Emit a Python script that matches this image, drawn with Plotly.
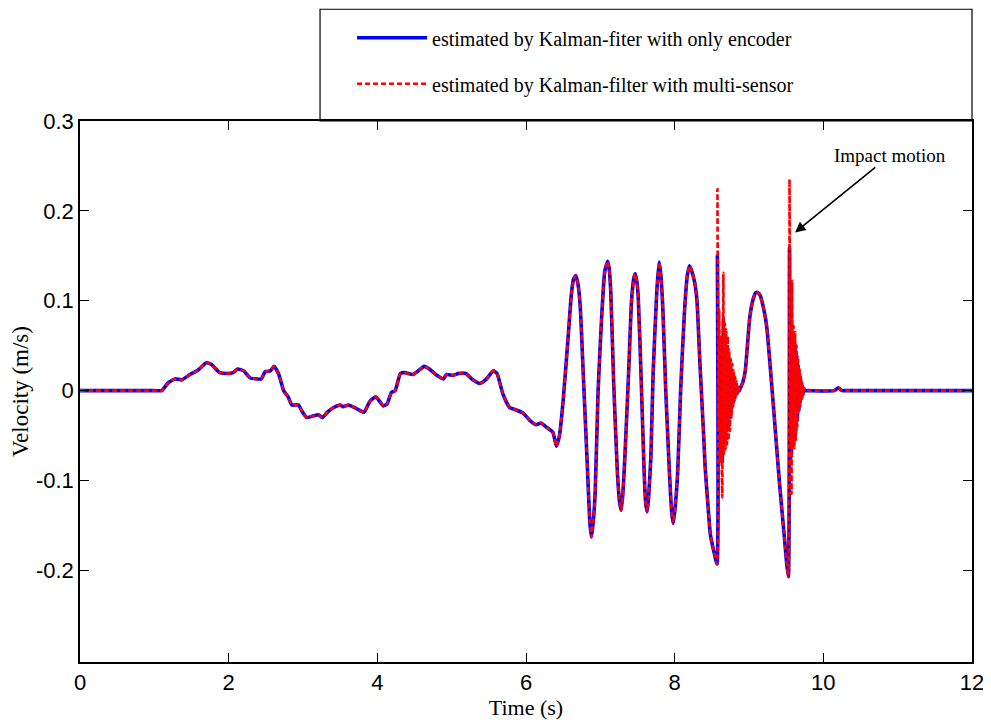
import plotly.graph_objects as go

# ---- data ----
# common smooth part (time s, velocity m/s)
seg1_t = [0, 1.00, 1.10, 1.19, 1.28, 1.37, 1.48, 1.59, 1.70, 1.77, 1.88, 1.97, 2.06, 2.12, 2.20, 2.29,
          2.38, 2.44, 2.49, 2.56, 2.61, 2.67, 2.74, 2.80, 2.85, 2.94, 2.98, 3.05, 3.14, 3.21, 3.26,
          3.34, 3.43, 3.50, 3.54, 3.61, 3.72, 3.82, 3.90, 3.98, 4.08, 4.13, 4.19, 4.24, 4.31, 4.37,
          4.48, 4.55, 4.63, 4.70, 4.80, 4.89, 4.93, 5.02, 5.09, 5.19, 5.27, 5.38, 5.47, 5.56, 5.61,
          5.69, 5.78, 5.85, 5.96, 6.05, 6.14, 6.20, 6.28, 6.36, 6.41, 6.45, 6.50, 6.57, 6.61, 6.64,
          6.67, 6.70, 6.73, 6.77, 6.82, 6.86, 6.88, 6.90, 6.93, 6.97, 7.02, 7.06, 7.10, 7.12, 7.14,
          7.18, 7.23, 7.26, 7.28, 7.30, 7.33, 7.38, 7.42, 7.45, 7.47, 7.49, 7.51, 7.55, 7.59, 7.61,
          7.63, 7.65, 7.68, 7.71, 7.76, 7.79, 7.81, 7.84, 7.88, 7.93, 7.96, 7.98, 8.00, 8.04, 8.08,
          8.13, 8.17, 8.20, 8.23, 8.27, 8.30, 8.34, 8.39, 8.41, 8.45, 8.48, 8.53, 8.57]
seg1_v = [0, 0, 0, 0.009, 0.013, 0.012, 0.018, 0.023, 0.031, 0.029, 0.020, 0.019, 0.020, 0.024, 0.022, 0.014,
          0.013, 0.013, 0.021, 0.022, 0.027, 0.019, 0.000, -0.007, -0.016, -0.016, -0.022, -0.030, -0.028, -0.027, -0.030,
          -0.023, -0.018, -0.016, -0.018, -0.016, -0.020, -0.024, -0.012, -0.007, -0.017, -0.015, -0.002, 0.000, 0.019, 0.020,
          0.018, 0.022, 0.027, 0.024, 0.017, 0.013, 0.018, 0.017, 0.019, 0.019, 0.013, 0.008, 0.013, 0.022, 0.019,
          -0.004, -0.019, -0.021, -0.025, -0.033, -0.038, -0.036, -0.041, -0.046, -0.062, -0.050, -0.011, 0.063, 0.107, 0.124,
          0.128, 0.118, 0.093, 0.019, -0.074, -0.148, -0.163, -0.150, -0.115, 0.000, 0.085, 0.133, 0.144, 0.135, 0.111,
          0.008, -0.092, -0.125, -0.133, -0.118, -0.074, 0.019, 0.100, 0.125, 0.130, 0.122, 0.104, 0.011, -0.092, -0.125,
          -0.135, -0.118, -0.074, 0.019, 0.111, 0.143, 0.132, 0.093, 0.000, -0.092, -0.135, -0.148, -0.135, -0.092, 0.000,
          0.085, 0.128, 0.139, 0.133, 0.120, 0.100, 0.030, -0.050, -0.085, -0.130, -0.160, -0.180, -0.193]

# first impact burst
burst1_t = [8.575, 8.590, 8.600, 8.610, 8.620, 8.630, 8.640, 8.655, 8.665, 8.675, 8.685, 8.695, 8.705,
            8.715, 8.725, 8.735, 8.745, 8.755, 8.765, 8.775, 8.785, 8.795, 8.805, 8.815, 8.825, 8.835,
            8.845, 8.855, 8.870]
burst1_red = [0.224, -0.040, 0.090, -0.080, 0.060, -0.060, -0.119, 0.131, -0.070, 0.075, -0.065, 0.068, -0.060,
              0.060, -0.055, 0.045, -0.045, 0.035, -0.030, 0.030, -0.020, 0.022, -0.012, 0.015, -0.008, 0.010,
              -0.004, 0.006, 0.000]
burst1_blue = [0.150, -0.060, 0.060, -0.070, 0.040, -0.050, -0.080, 0.080, -0.050, 0.050, -0.045, 0.045, -0.040,
               0.040, -0.035, 0.030, -0.030, 0.025, -0.020, 0.018, -0.014, 0.012, -0.008, 0.008, -0.005, 0.005,
               -0.003, 0.003, 0.000]

seg2_t = [8.88, 8.92, 8.95, 9.01, 9.05, 9.09, 9.12, 9.15, 9.20, 9.24, 9.33, 9.41, 9.48, 9.51, 9.53]
seg2_v = [0.002, 0.010, 0.022, 0.081, 0.100, 0.109, 0.109, 0.106, 0.090, 0.070, -0.019, -0.103, -0.167, -0.195, -0.207]

# second impact burst
burst2_t = [9.545, 9.555, 9.565, 9.572, 9.580, 9.590, 9.600, 9.610, 9.620, 9.630, 9.640, 9.650, 9.660,
            9.670, 9.680, 9.690, 9.700, 9.710, 9.720, 9.730, 9.740]
burst2_red = [0.235, -0.060, 0.080, -0.115, 0.122, -0.064, 0.072, -0.064, 0.065, -0.055, 0.050, -0.040, 0.037,
              -0.025, 0.025, -0.018, 0.015, -0.010, 0.008, -0.005, 0.003]
burst2_blue = [0.159, -0.080, 0.070, -0.070, 0.065, -0.060, 0.060, -0.055, 0.050, -0.045, 0.040, -0.033, 0.028,
               -0.022, 0.018, -0.013, 0.010, -0.007, 0.005, -0.003, 0.002]

seg3_t = [9.75, 9.80, 10.15, 10.20, 10.25, 10.30, 12.0]
seg3_v = [0.000, 0.000, 0.000, 0.003, 0.000, 0.000, 0.000]

x_ticks = [0, 2, 4, 6, 8, 10, 12]
y_ticks = [-0.2, -0.1, 0, 0.1, 0.2, 0.3]
y_tick_text = ["-0.2", "-0.1", "0", "0.1", "0.2", "0.3"]

name_enc = "estimated by Kalman-fiter with only encoder"
name_multi = "estimated by Kalman-filter with multi-sensor"

t_all = seg1_t + burst1_t + seg2_t + burst2_t + seg3_t
v_enc = seg1_v + burst1_blue + seg2_v + burst2_blue + seg3_v
v_multi = seg1_v + burst1_red + seg2_v + burst2_red + seg3_v

SERIF = "Liberation Serif, Times New Roman, serif"
SANS = "Liberation Sans, Arial, sans-serif"

fig = go.Figure()
fig.add_trace(go.Scatter(x=t_all, y=v_enc, mode="lines", name=name_enc, legendgroup="a",
                         line=dict(color="rgb(0,0,255)", width=3.6, shape="spline", smoothing=0.5)))
fig.add_trace(go.Scatter(x=t_all, y=v_multi, mode="lines", name=name_multi, legendgroup="b",
                         line=dict(color="rgb(255,0,0)", width=2.6, dash="5px,3px",
                                   shape="spline", smoothing=0.5)))

fig.add_annotation(x=9.62, y=0.176, ax=95, ay=-77, text="Impact motion",
                   showarrow=True, arrowhead=2, arrowsize=1.3, arrowwidth=1.6, arrowcolor="black",
                   font=dict(family=SERIF, size=19, color="black"))

# legend frame
fig.add_shape(type="rect", xref="paper", yref="paper", x0=0.2691, x1=1.0, y0=1.0, y1=1.2066,
              line=dict(color="black", width=1.2), fillcolor="rgba(0,0,0,0)")

axis_common = dict(showline=True, linecolor="black", linewidth=1.5, mirror="ticks",
                   ticks="inside", ticklen=9, tickwidth=1, tickcolor="black",
                   showgrid=False, zeroline=False, automargin=False,
                   tickfont=dict(family=SANS, size=22, color="black"))

# the page body adds an 8px offset, so the figure is sized/margined to land on the reference pixels
fig.update_layout(
    width=983, height=714,
    margin=dict(l=72, r=19, t=113, b=60, autoexpand=False),
    plot_bgcolor="white", paper_bgcolor="white",
    showlegend=True,
    legend=dict(x=0.305, y=1.19, xanchor="left", yanchor="top", itemwidth=70,
                bgcolor="rgba(0,0,0,0)", borderwidth=0, tracegroupgap=17,
                font=dict(family=SERIF, size=20, color="black")),
    xaxis=dict(range=[0, 12], tickvals=x_ticks, ticktext=[str(v) for v in x_ticks],
               title=dict(text="Time (s)", font=dict(family=SERIF, size=22, color="black"), standoff=0),
               **axis_common),
    yaxis=dict(range=[-0.302, 0.3], tickvals=y_ticks, ticktext=y_tick_text,
               title=dict(text="Velocity (m/s)", font=dict(family=SERIF, size=23, color="black"), standoff=4),
               **axis_common),
)

fig.write_html("out.html")
